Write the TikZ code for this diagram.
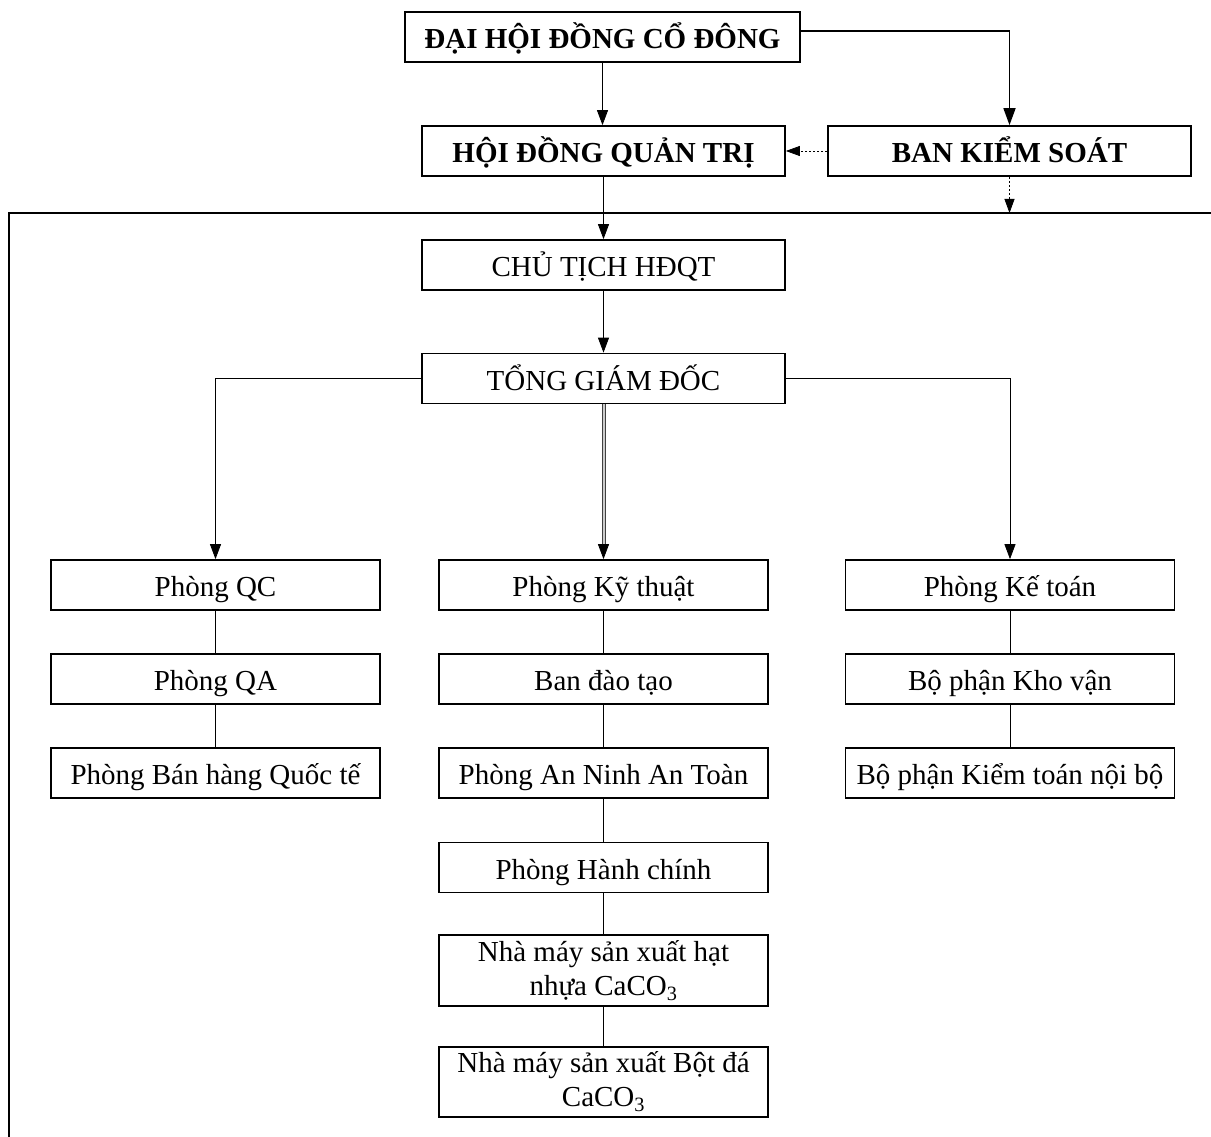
\documentclass[tikz,border=0pt]{standalone}
\usepackage{fontspec}
\setmainfont{Liberation Serif}
\usetikzlibrary{arrows.meta}
\begin{document}
\begin{tikzpicture}[x=1pt,y=-1pt,
  box/.style={draw, line width=1.7pt, minimum height=50pt, inner sep=0pt, align=center,
    font=\fontsize{29}{34}\selectfont},
  one/.style={text height=26pt, text depth=3pt},
  bbox/.style={box, one, font=\fontsize{29}{34}\selectfont\bfseries},
  wA/.style={minimum width=363pt},
  wB/.style={minimum width=329pt},
  arr/.style={-{Triangle[length=15pt,width=11pt]}, line width=0.8pt},
  barr/.style={-{Triangle[length=17pt,width=12pt]}, line width=1.6pt},
  darr/.style={-{Triangle[length=14pt,width=10pt]}, line width=0.8pt, dash pattern=on 2.5pt off 1.5pt},
  link/.style={line width=0.8pt},
  frame/.style={line width=1.8pt}]
\useasboundingbox (0,0) rectangle (1211,1137);
\node[bbox, minimum width=395pt] (dh) at (602.5,37) {ĐẠI HỘI ĐỒNG CỔ ĐÔNG};
\node[bbox, wA] (hd) at (603.5,151) {HỘI ĐỒNG QUẢN TRỊ};
\node[bbox, wA] (bks) at (1009.5,151) {BAN KIỂM SOÁT};
\node[box, one, wA] (ct) at (603.5,265) {CHỦ TỊCH HĐQT};
\node[box, one, wA] (tgd) at (603.5,378.5) {TỔNG GIÁM ĐỐC};
\node[box, one, wB] (qc) at (215.5,585) {Phòng QC};
\node[box, one, wB] (qa) at (215.5,679) {Phòng QA};
\node[box, one, wB] (bh) at (215.5,773) {Phòng Bán hàng Quốc tế};
\node[box, one, wB] (kt) at (603.5,585) {Phòng Kỹ thuật};
\node[box, one, wB] (dt) at (603.5,679) {Ban đào tạo};
\node[box, one, wB] (an) at (603.5,773) {Phòng An Ninh An Toàn};
\node[box, one, wB] (hc) at (603.5,867.5) {Phòng Hành chính};
\node[box, wB, minimum height=71pt] (nm1) at (603.5,970.5) {Nhà máy sản xuất hạt\\nhựa CaCO\textsubscript{3}};
\node[box, wB, minimum height=70pt] (nm2) at (603.5,1082) {Nhà máy sản xuất Bột đá\\CaCO\textsubscript{3}};
\node[box, one, wB] (ktoan) at (1010,585) {Phòng Kế toán};
\node[box, one, wB] (kv) at (1010,679) {Bộ phận Kho vận};
\node[box, one, wB] (ktnb) at (1010,773) {Bộ phận Kiểm toán nội bộ};
% frame
\coordinate (fTL) at (9,213);
\coordinate (fTR) at (1211,213);
\coordinate (fBL) at (9,1137);
\draw[frame] (fTR) -- (fTL) -- (fBL);
% top connectors
\draw[arr] (dh.south) -- (dh.south |- hd.north);
\coordinate (y31) at (0,31);
\draw[barr] (dh.east |- y31) -| (bks.north);
\draw[darr] (bks.west) -- (hd.east);
\draw[darr] (bks.south) -- (bks.south |- fTL);
\draw[arr] (hd.south) -- (ct.north);
\draw[arr] (ct.south) -- (tgd.north);
% TGD branches
\coordinate (dbl) at (603.5,546);
\draw[line width=1pt, draw=black!75, double=black!20, double distance=2pt] (tgd.south) -- (dbl);
\draw[arr] (dbl) -- (kt.north);
\draw[arr] (tgd.west) -| (qc.north);
\draw[arr] (tgd.east) -| (ktoan.north);
% stacks
\draw[link] (qc) -- (qa);
\draw[link] (qa) -- (bh);
\draw[link] (kt) -- (dt);
\draw[link] (dt) -- (an);
\draw[link] (an) -- (hc);
\draw[link] (hc) -- (nm1);
\draw[link] (nm1) -- (nm2);
\draw[link] (ktoan) -- (kv);
\draw[link] (kv) -- (ktnb);
\end{tikzpicture}
\end{document}
